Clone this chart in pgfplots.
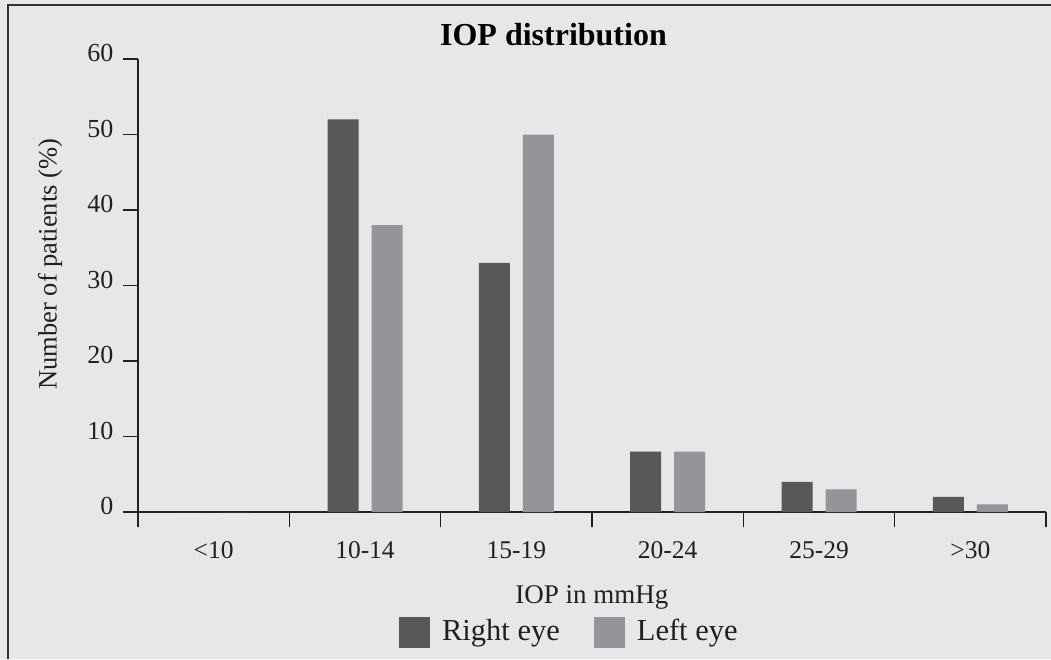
\documentclass[border=0pt]{standalone}
\usepackage{fontspec}
\setmainfont{Liberation Serif}
\usepackage{pgfplots}
\pgfplotsset{compat=1.18}
\definecolor{bg}{RGB}{230,231,233}
\definecolor{darkbar}{RGB}{87,88,90}
\definecolor{lightbar}{RGB}{147,149,152}
\definecolor{axiscol}{RGB}{35,31,32}
\begin{document}
\begin{tikzpicture}[x=1pt,y=1pt]
\fill[bg] (0,0) rectangle (1051,659);
\draw[line width=2pt, color=black!80] (8,0) -- (8,653.5) -- (1051,653.5);
\begin{axis}[
  at={(138pt,147pt)}, anchor=south west,
  scale only axis, width=908pt, height=453pt,
  xmin=-0.5, xmax=5.5, ymin=0, ymax=60,
  axis lines=left,
  x axis line style={-, line width=1.4pt, color=axiscol},
  y axis line style={-, line width=1.4pt, color=axiscol},
  tick align=outside,
  major tick length=15pt,
  tick style={line width=1.4pt, color=axiscol},
  ytick={0,10,...,60},
  xtick={-0.5,0.5,...,5.5},
  x tick label as interval,
  xticklabels={{<10},{10-14},{15-19},{20-24},{25-29},{>30}},
  /pgf/number format/assume math mode=true,
  yticklabel style={font=\fontsize{26}{30}\selectfont, color=axiscol, yshift=6pt, xshift=-6pt},
  xticklabel style={font=\fontsize{25.5}{29}\selectfont, color=axiscol, yshift=-11pt},
  title={IOP distribution},
  title style={at={(axis description cs:0.4576,1.016)}, anchor=base, font=\bfseries\fontsize{32}{36}\selectfont},
  xlabel={IOP in mmHg},
  xlabel style={at={(axis description cs:0.5,-0.2009)}, anchor=base, font=\fontsize{27}{31}\selectfont, color=axiscol},
  ylabel={Number of patients (\%)},
  ylabel style={at={(axis description cs:-0.0969,0.547)}, anchor=center, font=\fontsize{26.5}{30}\selectfont, color=axiscol},
  legend columns=2,
  legend style={at={(axis description cs:0.474,-0.265)}, anchor=center, draw=none, fill=none, inner sep=0pt,
    font=\fontsize{30.5}{34}\selectfont, text=axiscol,
    nodes={anchor=base west, inner sep=0pt},
    /tikz/every odd column/.append style={column sep=12pt},
    /tikz/every even column/.append style={column sep=34pt}},
  legend image code/.code={\fill[#1] (0pt,-7pt) rectangle (31pt,24pt);},
]
\addplot[ybar, bar width=31pt, bar shift=-22pt, fill=darkbar, draw=none] coordinates {(0,0) (1,52) (2,33) (3,8) (4,4) (5,2)};
\addlegendentry{Right eye}
\addplot[ybar, bar width=31pt, bar shift=22pt, fill=lightbar, draw=none] coordinates {(0,0) (1,38) (2,50) (3,8) (4,3) (5,1)};
\addlegendentry{Left eye}
\end{axis}
\pgfresetboundingbox
\path (0,0) rectangle (1051,659);
\end{tikzpicture}
\end{document}
